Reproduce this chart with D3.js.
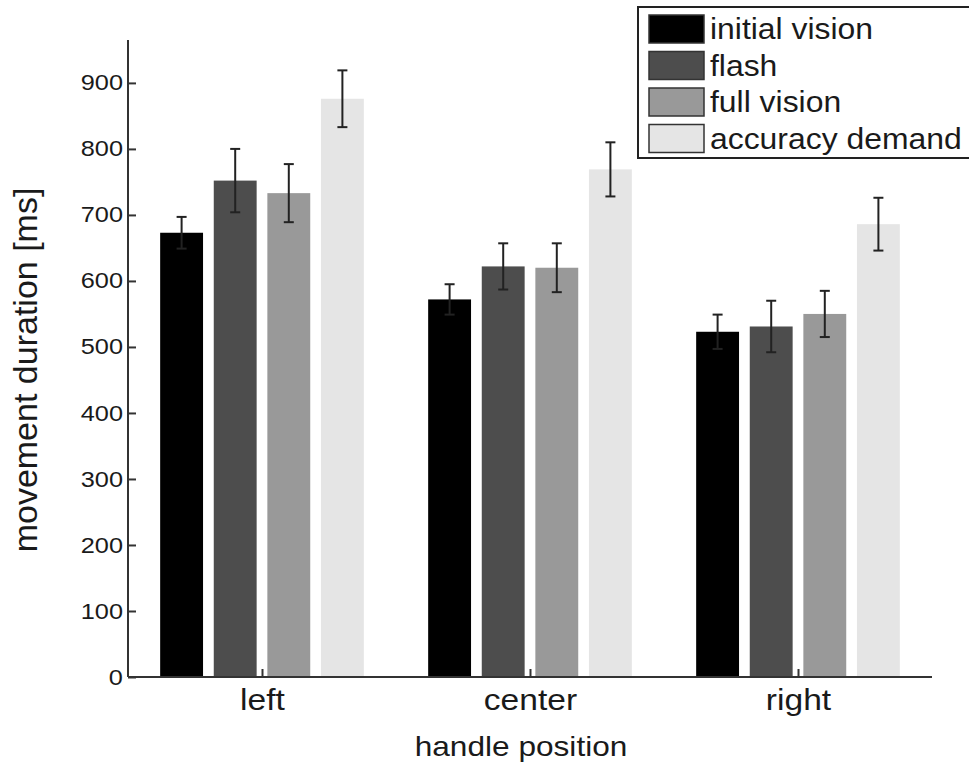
<!DOCTYPE html>
<html>
<head>
<script src="https://cdn.jsdelivr.net/npm/d3@7"></script>
<style>
  body { margin: 0; background: #fff; }
  text { font-family: "Liberation Sans", Arial, sans-serif; fill: #1a1a1a; }
</style>
</head>
<body>
<script>
var categories = ["left", "center", "right"];
var seriesNames = ["initial vision", "flash", "full vision", "accuracy demand"];
var initialVision = [673, 572, 523];
var flash = [752, 622, 531];
var fullVision = [733, 620, 550];
var accuracyDemand = [876, 769, 686];
var errInitial = [24, 23, 26];
var errFlash = [48, 35, 39];
var errFull = [44, 37, 35];
var errAccuracy = [43, 41, 40];
var yTicks = [0, 100, 200, 300, 400, 500, 600, 700, 800, 900];
var colors = ["#000000", "#4d4d4d", "#999999", "#e5e5e5"];

var width = 969, height = 762;
var means = [initialVision, flash, fullVision, accuracyDemand];
var errs = [errInitial, errFlash, errFull, errAccuracy];

var svg = d3.select("body").append("svg")
  .attr("width", width)
  .attr("height", height);

var x = d3.scaleLinear().domain([0.5, 3.5]).range([128, 932]);
var y = d3.scaleLinear().domain([0, 965]).range([677, 40]);

// bars
var bars = [];
means.forEach(function (s, i) {
  s.forEach(function (v, j) {
    bars.push({ s: i, c: j, v: v, e: errs[i][j] });
  });
});

var barW = 0.16, step = 0.2;
function cx(d) { return x(d.c + 1 + (d.s - 1.5) * step); }

svg.selectAll("rect.bar")
  .data(bars)
  .enter()
  .append("rect")
  .attr("class", "bar")
  .attr("x", function (d) { return x(d.c + 1 + (d.s - 1.5) * step - barW / 2); })
  .attr("width", x(barW) - x(0))
  .attr("y", function (d) { return y(d.v); })
  .attr("height", function (d) { return y(0) - y(d.v); })
  .attr("fill", function (d) { return colors[d.s]; });

// error bars
var eb = svg.selectAll("g.err").data(bars).enter().append("g")
  .attr("stroke", "#222")
  .attr("stroke-width", 2);
eb.append("line")
  .attr("x1", cx).attr("x2", cx)
  .attr("y1", function (d) { return y(d.v + d.e); })
  .attr("y2", function (d) { return y(d.v - d.e); });
eb.append("line")
  .attr("x1", function (d) { return cx(d) - 5; })
  .attr("x2", function (d) { return cx(d) + 5; })
  .attr("y1", function (d) { return y(d.v + d.e); })
  .attr("y2", function (d) { return y(d.v + d.e); });
eb.append("line")
  .attr("x1", function (d) { return cx(d) - 5; })
  .attr("x2", function (d) { return cx(d) + 5; })
  .attr("y1", function (d) { return y(d.v - d.e); })
  .attr("y2", function (d) { return y(d.v - d.e); });

// axes (text in the source is a bit wider than tall, so stretch it)
var yAxis = d3.axisLeft(y).tickValues(yTicks).tickSize(-8).tickPadding(4.4);
var gy = svg.append("g")
  .attr("transform", "translate(128,0)")
  .call(yAxis);
gy.select(".domain").attr("stroke", "#333").attr("stroke-width", 2)
  .attr("d", "M0," + y(965) + "V" + y(0));
gy.selectAll(".tick line").attr("stroke", "#333").attr("stroke-width", 2);
gy.selectAll(".tick text").style("font-size", "22px").attr("fill", "#1a1a1a")
  .attr("transform", "scale(1.15,1)");

var xAxis = d3.axisBottom(x).tickValues([1, 2, 3])
  .tickFormat(function (d) { return categories[d - 1]; })
  .tickSize(-8).tickPadding(12);
var gx = svg.append("g")
  .attr("transform", "translate(0,677)")
  .call(xAxis);
gx.select(".domain").attr("stroke", "#333").attr("stroke-width", 2)
  .attr("d", "M128,0H932");
gx.selectAll(".tick line").attr("stroke", "#333").attr("stroke-width", 2);
gx.selectAll(".tick text").style("font-size", "30px").attr("fill", "#1a1a1a")
  .attr("transform", "scale(1.12,1)");

// axis labels
svg.append("text")
  .attr("transform", "translate(521,756) scale(1.13,1)")
  .attr("text-anchor", "middle")
  .style("font-size", "28px")
  .text("handle position");

svg.append("text")
  .attr("transform", "translate(37,370) rotate(-90)")
  .attr("text-anchor", "middle")
  .style("font-size", "34px")
  .text("movement duration [ms]");

// legend
var lg = svg.append("g").attr("transform", "translate(638,7)");
lg.append("rect")
  .attr("x", 0).attr("y", 0)
  .attr("width", 345).attr("height", 151)
  .attr("fill", "#fff")
  .attr("stroke", "#222")
  .attr("stroke-width", 2);
var items = lg.selectAll("g.item").data(seriesNames).enter().append("g")
  .attr("transform", function (d, i) { return "translate(0," + (8 + i * 36.5) + ")"; });
items.append("rect")
  .attr("x", 11).attr("y", 0)
  .attr("width", 55).attr("height", 28)
  .attr("fill", function (d, i) { return colors[i]; })
  .attr("stroke", "#333")
  .attr("stroke-width", 1.5);
items.append("text")
  .attr("transform", "translate(72,24) scale(1.1,1)")
  .style("font-size", "29px")
  .text(function (d) { return d; });
</script>
</body>
</html>
